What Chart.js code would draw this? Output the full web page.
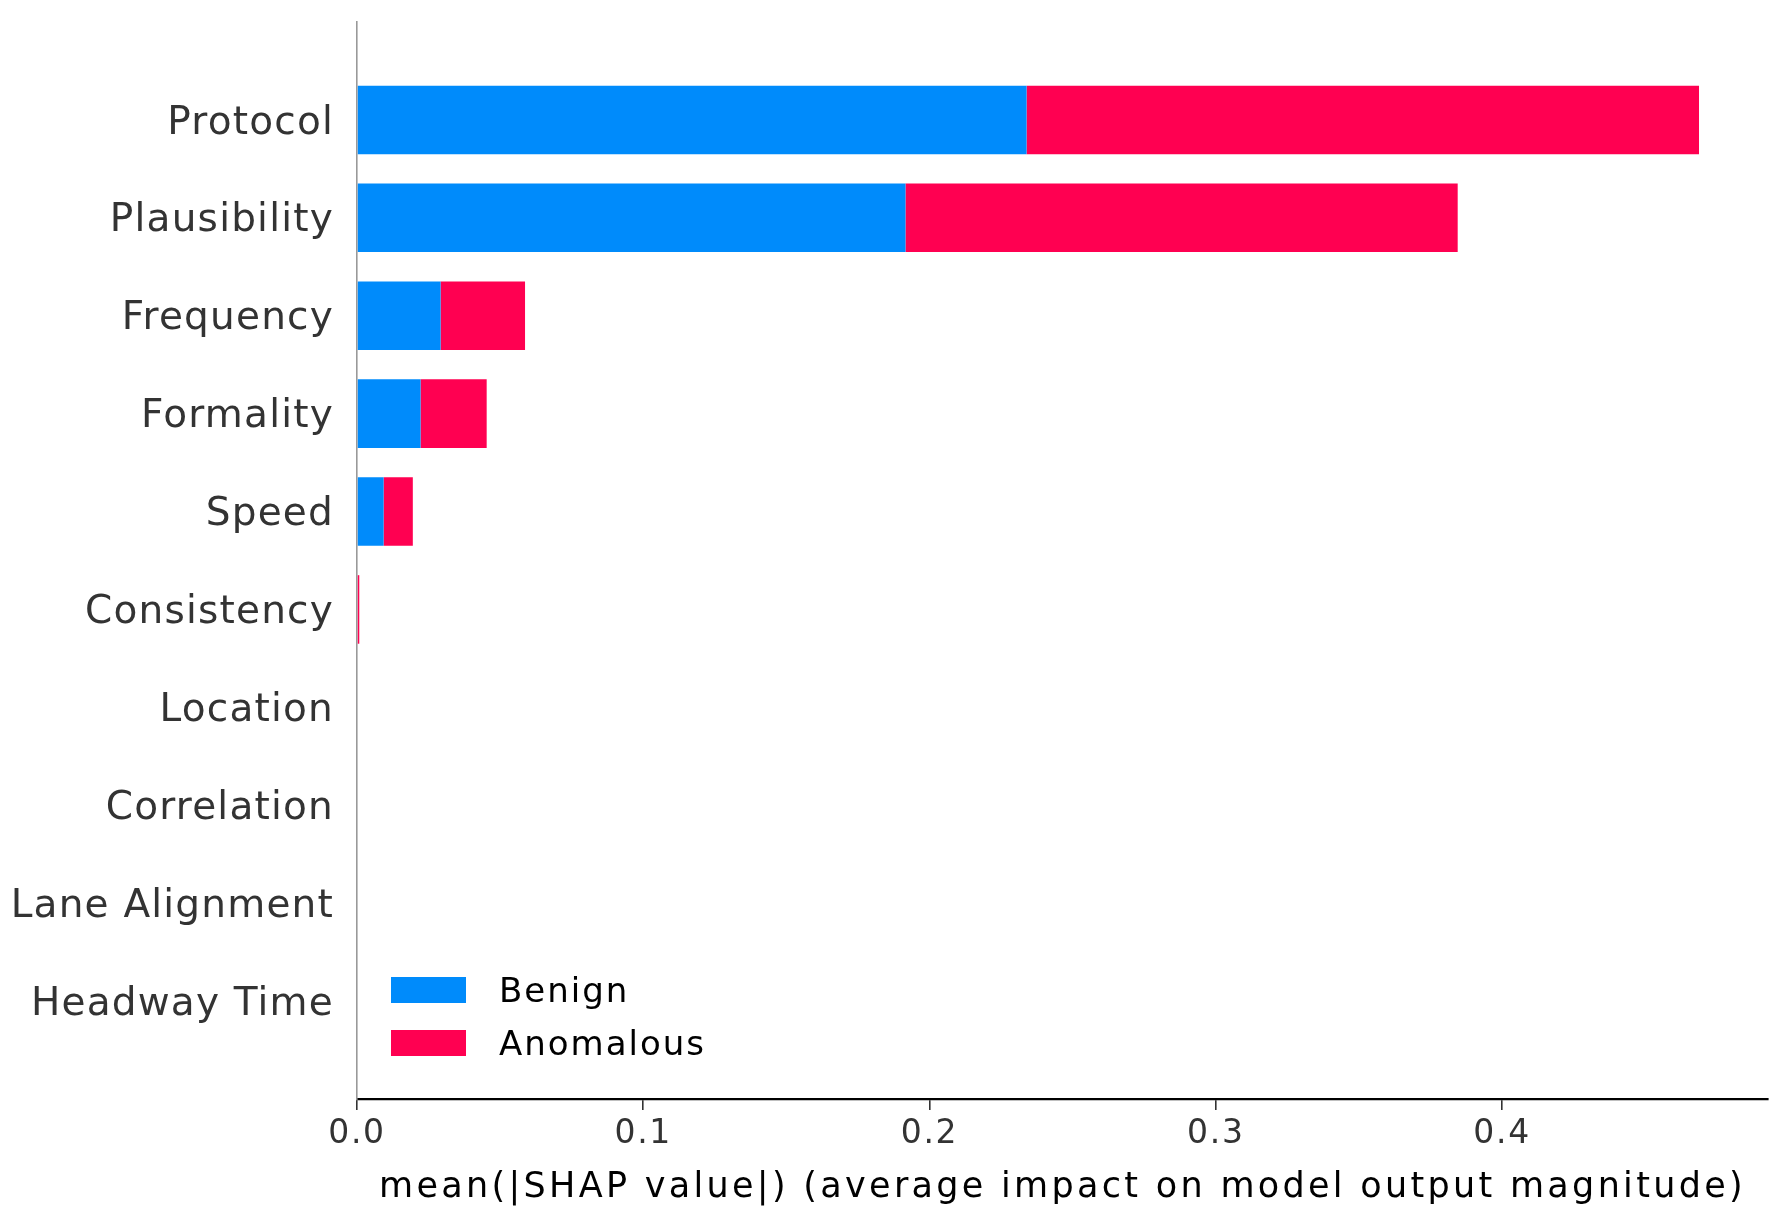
<!DOCTYPE html>
<html>
<head>
<meta charset="utf-8">
<title>SHAP feature importance</title>
<script src="https://cdn.jsdelivr.net/npm/chart.js@4.4.1/dist/chart.umd.min.js"></script>
<style>
  html, body { margin: 0; padding: 0; background: #fff; }
  #chart { display: block; }
</style>
</head>
<body>
<canvas id="chart" width="1781" height="1220"></canvas>
<script>
// feature names, top to bottom
const features = [
    'Protocol', 'Plausibility', 'Frequency', 'Formality', 'Speed',
    'Consistency', 'Location', 'Correlation', 'Lane Alignment', 'Headway Time'
];

// mean(|SHAP|) per class
const benign = [0.2339, 0.1916, 0.0292, 0.0222, 0.0093, 0, 0, 0, 0, 0];
const anomalous = [0.2349, 0.1929, 0.0295, 0.0231, 0.0102, 0.0008, 0, 0, 0, 0];

const xTicks = [0.0, 0.1, 0.2, 0.3, 0.4];
const xMax = 0.4929;

const seriesNames = ['Benign', 'Anomalous'];
const seriesColors = ['#008bfb', '#ff0051'];

const FONT = '"DejaVu Sans", sans-serif';

function toPoints(values) {
    return values.map((v, i) => ({ x: v, y: i }));
}

// matplotlib's low-dpi text comes out a little wider, so widen ours a bit
function spaced(scale, method, spacing) {
    if (scale['_orig_' + method]) return;
    const orig = scale[method];
    scale['_orig_' + method] = orig;
    scale[method] = function (...args) {
        const prev = this.ctx.letterSpacing;
        this.ctx.letterSpacing = spacing;
        orig.apply(this, args);
        this.ctx.letterSpacing = prev || '0px';
    };
}

const textSpacing = {
    id: 'textSpacing',
    beforeDraw(chart) {
        spaced(chart.scales.x, 'drawLabels', '1.7px');
        spaced(chart.scales.x, 'drawTitle', '3.3px');
        spaced(chart.scales.y, 'drawLabels', '1.2px');
    }
};

// legend in the lower left of the plot area, like matplotlib's
const shapLegend = {
    id: 'shapLegend',
    afterDatasetsDraw(chart) {
        const { ctx, chartArea } = chart;
        ctx.save();
        ctx.font = `34px ${FONT}`;
        ctx.letterSpacing = '2px';
        ctx.textBaseline = 'alphabetic';
        ctx.textAlign = 'left';
        chart.data.datasets.forEach((ds, i) => {
            const top = chartArea.bottom - 122 + i * 53;
            ctx.fillStyle = ds.backgroundColor;
            ctx.fillRect(chartArea.left + 34, top, 75, 26);
            ctx.fillStyle = '#000';
            ctx.fillText(ds.label, chartArea.left + 142, top + 25);
        });
        ctx.restore();
    }
};

new Chart(document.getElementById('chart'), {
    type: 'bar',
    data: {
        datasets: [
            {
                label: seriesNames[0],
                data: toPoints(benign),
                backgroundColor: seriesColors[0]
            },
            {
                label: seriesNames[1],
                data: toPoints(anomalous),
                backgroundColor: seriesColors[1]
            }
        ]
    },
    options: {
        indexAxis: 'y',
        responsive: false,
        animation: false,
        categoryPercentage: 0.7,
        barPercentage: 1.0,
        borderWidth: 0,
        layout: {
            padding: { top: 22, right: 13, left: 0, bottom: 0 }
        },
        plugins: {
            legend: { display: false },
            tooltip: { enabled: false }
        },
        scales: {
            x: {
                type: 'linear',
                stacked: true,
                min: 0,
                max: xMax,
                afterBuildTicks: scale => {
                    scale.ticks = xTicks.map(v => ({ value: v }));
                },
                afterFit: scale => {
                    scale.height = 121;
                    scale.paddingLeft = 0;
                    scale.paddingRight = 0;
                },
                grid: {
                    display: true,
                    drawOnChartArea: false,
                    drawTicks: true,
                    tickLength: 11,
                    color: '#333',
                    lineWidth: 1.6
                },
                border: { display: true, color: '#000', width: 2.2 },
                ticks: {
                    padding: 5,
                    color: '#333',
                    font: { family: FONT, size: 33 },
                    callback: v => v.toFixed(1)
                },
                title: {
                    display: true,
                    text: 'mean(|SHAP value|) (average impact on model output magnitude)',
                    color: '#000',
                    font: { family: FONT, size: 35 },
                    padding: { top: 0, bottom: 11 }
                }
            },
            y: {
                type: 'linear',
                stacked: true,
                reverse: true,
                offset: false,
                min: -1,
                max: features.length,
                afterBuildTicks: scale => {
                    scale.ticks = features.map((_, i) => ({ value: i }));
                },
                afterFit: scale => {
                    scale.width = 357;
                    scale.paddingTop = 0;
                    scale.paddingBottom = 0;
                },
                grid: { display: false, offset: false, drawTicks: false },
                border: { display: true, color: '#999', width: 1.6 },
                ticks: {
                    padding: 23,
                    labelOffset: 3.5,
                    color: '#333',
                    font: { family: FONT, size: 39 },
                    callback: v => features[v] ?? ''
                }
            }
        }
    },
    plugins: [textSpacing, shapLegend]
});
</script>
</body>
</html>
